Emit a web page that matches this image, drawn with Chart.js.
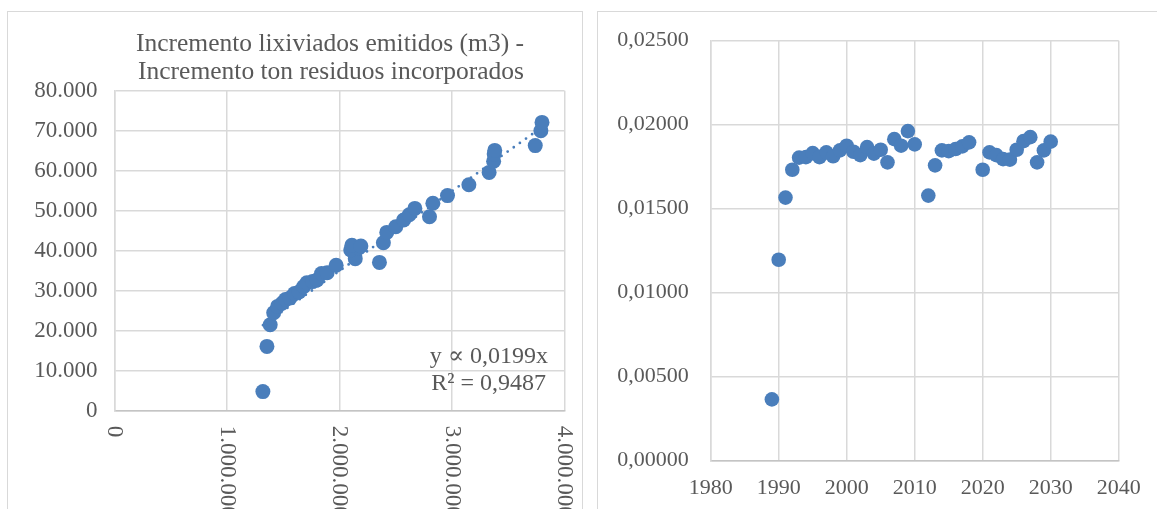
<!DOCTYPE html>
<html>
  <head>
    <meta charset="utf-8">
    <script src="https://cdn.jsdelivr.net/npm/chart.js@4.4.1/dist/chart.umd.min.js"></script>
    <style>
      body { margin: 0; background: #fff; overflow: hidden; }
      .box { position: absolute; border: 1px solid #d9d9d9; background: #fff; }
      #boxL { left: 7px; top: 11px; width: 574px; height: 530px; }
      #boxR { left: 597px; top: 11px; width: 600px; height: 530px; }
      canvas { position: absolute; }
    </style>
  </head>

  <body>
    <div class="box" id="boxL"></div>
    <div class="box" id="boxR"></div>
    <canvas id="left" width="573" height="496" style="left: 8px; top: 13px;"></canvas>
    <canvas id="right" width="559" height="496" style="left: 598px; top: 13px;"></canvas>
    <script>
      // left chart: increment of waste tons (x) vs increment of leachate m3 (y)
      const wasteInc = [
        1319000, 1355000, 1384000, 1415000, 1450000, 1490000, 1520000, 1560000, 1600000, 1640000,
        1680000, 1710000, 1760000, 1800000, 1840000, 1890000, 1970000, 2140000, 2100000, 2170000,
        2110000, 2190000, 2355000, 2390000, 2420000, 2500000, 2570000, 2620000, 2670000, 2800000,
        2830000, 2960000, 3150000, 3330000, 3370000, 3375000, 3380000, 3740000, 3790000, 3800000,
      ];
      const leachateInc = [
        4800, 16100, 21500, 24500, 26100, 26900, 27800, 28200, 29300, 29700,
        31000, 32000, 32300, 32700, 34300, 34500, 36400, 38000, 40200, 40700,
        41400, 41200, 37100, 42000, 44600, 46000, 47700, 49000, 50600, 48500,
        51900, 53800, 56500, 59600, 62400, 64200, 65100, 66300, 70000, 72100,
      ];
      // dotted trendline ends
      const trendX = [1320000, 3800000];
      const trendY = [21400, 70900];
      const titleLines = ['Incremento lixiviados emitidos (m3) -', 'Incremento ton residuos incorporados'];
      const equationLines = ['y \u221D 0,0199x', 'R\u00B2 = 0,9487'];

      // right chart: ratio per year
      const years = [
        1989, 1990, 1991, 1992, 1993, 1994, 1995, 1996, 1997, 1998,
        1999, 2000, 2001, 2002, 2003, 2004, 2005, 2006, 2007, 2008,
        2009, 2010, 2012, 2013, 2014, 2015, 2016, 2017, 2018, 2020,
        2021, 2022, 2023, 2024, 2025, 2026, 2027, 2028, 2029, 2030,
      ];
      const ratio = [
        0.00365, 0.01196, 0.01566, 0.01732, 0.01804, 0.01807, 0.01831, 0.01807, 0.01835, 0.01812,
        0.01847, 0.01875, 0.01839, 0.01819, 0.01867, 0.01828, 0.01851, 0.01776, 0.01914, 0.01875,
        0.01962, 0.01883, 0.01578, 0.01758, 0.01847, 0.01843, 0.01855, 0.01871, 0.01895, 0.01732,
        0.01835, 0.01819, 0.01795, 0.01792, 0.01851, 0.01902, 0.01926, 0.01776, 0.01847, 0.01899,
      ];

      const FONT = '"Liberation Serif", "DejaVu Serif", serif';
      const TEXT = '#595959';
      const BLUE = '#4a7ebb';
      const GRID = '#d9d9d9';

      const dotThousands = (v) => String(v).replace(/\B(?=(\d{3})+(?!\d))/g, '.');

      const leftText = {
        id: 'leftText',
        afterDraw(chart) {
          const ctx = chart.ctx;
          const area = chart.chartArea;
          ctx.save();
          ctx.fillStyle = TEXT;
          // title
          ctx.font = '25.5px ' + FONT;
          ctx.textAlign = 'center';
          ctx.textBaseline = 'middle';
          ctx.fillText(titleLines[0], 322, 31);
          ctx.fillText(titleLines[1], 323, 59);
          // equation + R2
          ctx.font = '24px ' + FONT;
          ctx.textAlign = 'right';
          ctx.fillText(equationLines[0], 540, 344);
          ctx.fillText(equationLines[1], 538, 371);
          // x tick labels, rotated clockwise
          const xs = chart.scales.x;
          ctx.font = '23px ' + FONT;
          ctx.textAlign = 'left';
          xs.ticks.forEach((t) => {
            const px = xs.getPixelForValue(t.value);
            ctx.save();
            ctx.translate(px, area.bottom + 15);
            ctx.rotate(Math.PI / 2);
            ctx.fillText(dotThousands(t.value), 0, 0);
            ctx.restore();
          });
          ctx.restore();
        },
      };

      new Chart(document.getElementById('left'), {
        type: 'scatter',
        data: {
          datasets: [
            {
              data: wasteInc.map((x, i) => ({ x: x, y: leachateInc[i] })),
              backgroundColor: BLUE,
              borderWidth: 0,
              pointRadius: 7.5,
              order: 0,
            },
            {
              type: 'line',
              data: trendX.map((x, i) => ({ x: x, y: trendY[i] })),
              borderColor: BLUE,
              borderWidth: 2.8,
              borderDash: [0, 7.5],
              borderCapStyle: 'round',
              pointRadius: 0,
              order: 1,
            },
          ],
        },
        options: {
          responsive: false,
          animation: false,
          events: [],
          layout: { padding: { left: 0, right: 16.5, top: 77.8, bottom: 0 } },
          plugins: { legend: { display: false }, tooltip: { enabled: false } },
          scales: {
            x: {
              type: 'linear',
              min: 0,
              max: 4000000,
              ticks: { stepSize: 1000000, display: false },
              grid: { color: GRID, lineWidth: 1.5, drawTicks: false },
              border: { color: '#c4c4c4', width: 1.5 },
              afterFit: (s) => { s.height = 98.2; },
            },
            y: {
              min: 0,
              max: 80000,
              ticks: {
                stepSize: 10000,
                padding: 17,
                color: TEXT,
                font: { family: FONT, size: 23 },
                callback: (v) => dotThousands(v),
              },
              grid: { color: GRID, lineWidth: 1.5, drawTicks: false },
              border: { color: GRID, width: 1.5 },
              afterFit: (s) => { s.width = 106.5; },
            },
          },
        },
        plugins: [leftText],
      });

      new Chart(document.getElementById('right'), {
        type: 'scatter',
        data: {
          datasets: [
            {
              data: years.map((x, i) => ({ x: x, y: ratio[i] })),
              backgroundColor: BLUE,
              borderWidth: 0,
              pointRadius: 7.3,
            },
          ],
        },
        options: {
          responsive: false,
          animation: false,
          events: [],
          layout: { padding: { left: 0, right: 38.3, top: 27.7, bottom: 0 } },
          plugins: { legend: { display: false }, tooltip: { enabled: false } },
          scales: {
            x: {
              type: 'linear',
              min: 1980,
              max: 2040,
              ticks: {
                stepSize: 10,
                padding: 14.5,
                maxRotation: 0,
                color: TEXT,
                font: { family: FONT, size: 22 },
                callback: (v) => String(v),
              },
              grid: { color: GRID, lineWidth: 1.5, drawTicks: false },
              border: { color: '#c4c4c4', width: 1.5 },
              afterFit: (s) => { s.height = 48.3; },
            },
            y: {
              min: 0,
              max: 0.025,
              ticks: {
                stepSize: 0.005,
                padding: 22,
                color: TEXT,
                font: { family: FONT, size: 22 },
                callback: (v) => v.toFixed(5).replace('.', ','),
              },
              grid: { color: GRID, lineWidth: 1.5, drawTicks: false },
              border: { color: GRID, width: 1.5 },
              // label padding would otherwise push the plot top down
              afterFit: (s) => { s.width = 112.7; s.paddingTop = 14; s.paddingBottom = 14; },
            },
          },
        },
      });
    </script>
  </body>
</html>
